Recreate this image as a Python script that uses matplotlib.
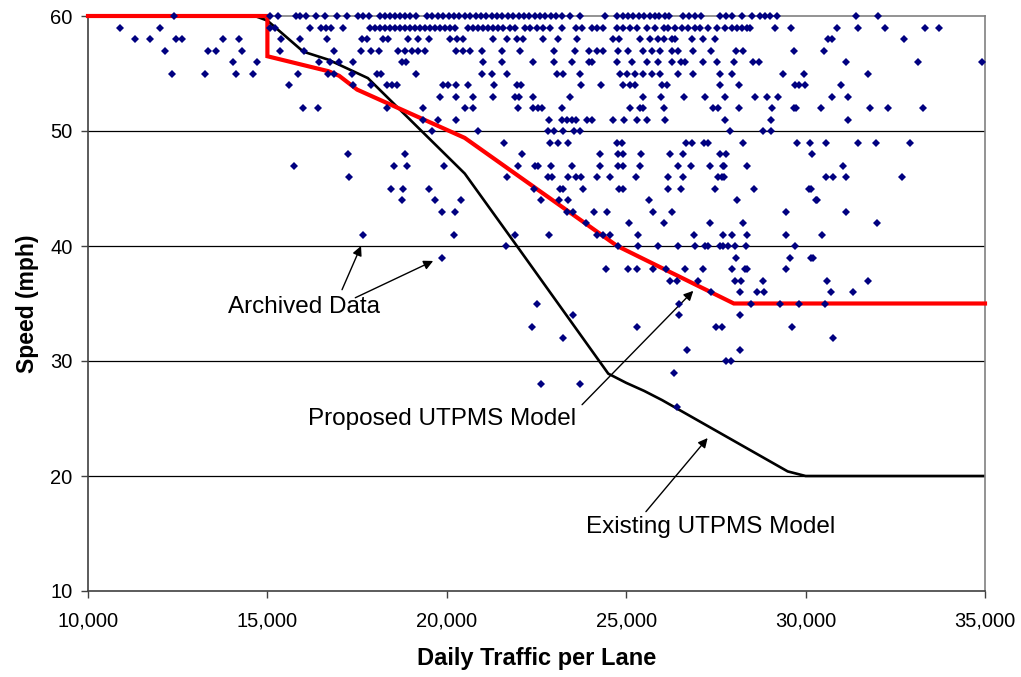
import matplotlib
matplotlib.use("Agg")
import matplotlib.pyplot as plt
import numpy as np

plt.rcParams['font.family'] = ['Liberation Sans', 'DejaVu Sans']

# Archived data: daily traffic per lane (thousands) for each observed speed (mph)
s60 = [12.4, 15.06, 15.3, 15.8, 15.9, 16.07, 16.35, 16.6, 16.95, 17.23, 17.53, 17.67, 17.84,
       18.14, 18.28, 18.42, 18.56, 18.7, 18.83, 18.97, 19.14, 19.45, 19.6, 19.75, 19.9, 20.05,
       20.2, 20.35, 20.5, 20.65, 20.8, 20.95, 21.1, 21.25, 21.4, 21.55, 21.7, 21.85, 22.0, 22.15,
       22.3, 22.45, 22.6, 22.75, 22.9, 23.05, 23.2, 23.43, 23.71, 24.41, 24.75, 24.9, 25.05, 25.2,
       25.35, 25.5, 25.65, 25.8, 25.92, 26.08, 26.2, 26.59, 26.76, 26.92, 27.08, 27.61, 27.78,
       27.94, 28.22, 28.5, 28.73, 28.87, 29.01, 29.19, 31.4, 32.03]
s59 = [10.9, 12.0, 15.06, 15.2, 16.2, 16.5, 16.64, 16.78, 17.12, 17.86, 18.0, 18.14, 18.28, 18.42,
       18.56, 18.7, 18.83, 18.97, 19.11, 19.25, 19.39, 19.53, 19.67, 19.81, 19.95, 20.09, 20.23,
       20.6, 20.74, 20.88, 21.02, 21.16, 21.3, 21.44, 21.58, 21.76, 21.9, 22.18, 22.32, 22.5,
       22.69, 22.88, 23.2, 23.6, 23.76, 24.04, 24.18, 24.36, 24.73, 24.92, 25.1, 25.29, 25.57,
       25.8, 26.04, 26.17, 26.36, 26.55, 26.73, 26.92, 27.06, 27.29, 27.52, 27.75, 27.94, 28.08,
       28.22, 28.36, 28.45, 29.15, 29.58, 30.87, 31.47, 32.21, 33.33, 33.73]
s58 = [11.3, 11.72, 12.44, 12.63, 13.76, 14.2, 15.39, 15.92, 16.67, 17.63, 17.77, 18.23, 18.37,
       18.93, 19.21, 19.49, 20.09, 20.28, 20.46, 21.28, 21.67, 21.95, 22.13, 22.67, 23.09, 23.62,
       24.62, 24.81, 25.38, 25.66, 25.89, 26.04, 26.27, 26.36, 26.82, 27.13, 27.47, 30.63, 30.73,
       32.74]
s57 = [12.14, 13.34, 13.58, 14.3, 15.36, 16.02, 16.85, 17.61, 17.9, 18.12, 18.65, 18.83, 19.02,
       19.21, 19.39, 20.27, 20.46, 20.64, 20.97, 21.55, 22.04, 22.99, 23.57, 23.97, 24.18, 24.34,
       24.78, 25.06, 25.48, 25.71, 25.94, 26.27, 26.45, 26.85, 27.36, 28.06, 28.26, 29.68, 30.5]
s56 = [14.04, 14.72, 16.43, 16.75, 16.99, 17.39, 18.74, 18.86, 21.02, 21.53, 22.39, 22.99, 23.48,
       23.95, 24.04, 24.73, 25.15, 25.57, 25.89, 26.29, 26.54, 26.64, 27.15, 27.52, 28.0, 28.54,
       28.71, 31.12, 33.12, 34.93]
s55 = [12.35, 13.25, 14.12, 14.61, 15.85, 16.69, 16.87, 17.36, 18.06, 18.17, 19.14, 20.97, 21.27,
       21.67, 23.06, 23.25, 23.71, 24.83, 25.01, 25.25, 25.48, 25.71, 25.94, 26.45, 26.87, 27.61,
       27.94, 29.38, 29.96, 31.75]
s54 = [15.59, 17.38, 17.88, 18.32, 18.46, 18.6, 19.9, 20.04, 20.25, 20.6, 21.32, 21.95, 22.06,
       23.74, 24.29, 24.92, 25.1, 25.25, 26.01, 26.15, 27.61, 28.15, 29.7, 29.82, 29.98, 30.98]
s53 = [19.81, 20.27, 20.74, 21.28, 21.9, 22.02, 22.41, 23.43, 25.48, 25.96, 26.62, 27.2, 27.74,
       28.59, 28.92, 29.24, 30.73, 31.19]
s52 = [15.99, 16.41, 18.34, 19.33, 20.51, 20.74, 21.99, 22.41, 22.55, 22.64, 23.2, 25.1, 25.38,
       25.48, 26.04, 27.43, 27.57, 28.15, 29.05, 29.68, 29.73, 30.42, 31.8, 32.31, 33.28]
s51 = [19.33, 19.76, 20.25, 22.86, 23.2, 23.36, 23.48, 23.6, 23.9, 24.04, 24.64, 24.95, 25.29,
       25.59, 26.08, 27.75, 29.04, 31.17]
s50 = [19.6, 20.88, 22.83, 23.0, 23.25, 23.55, 23.7, 27.89, 28.82, 29.04]
s49 = [21.59, 22.88, 23.11, 23.39, 24.73, 24.87, 26.68, 26.82, 27.17, 27.29, 28.26, 29.75, 30.12,
       30.56, 31.47, 31.96, 32.91]
s48 = [17.26, 18.83, 22.09, 24.27, 24.78, 24.92, 25.41, 26.22, 26.59, 27.61, 27.78, 30.17]
s47 = [15.75, 18.54, 18.88, 19.92, 21.99, 22.46, 22.55, 22.9, 23.5, 24.27, 24.78, 24.9, 25.38,
       26.45, 26.8, 27.34, 27.69, 27.73, 28.36, 31.05]
s46 = [17.27, 21.67, 22.83, 22.92, 23.39, 23.6, 23.73, 24.18, 24.55, 25.26, 26.17, 26.59, 27.57,
       27.66, 27.73, 30.56, 30.75, 31.13, 32.7]
s45 = [18.44, 18.77, 19.5, 22.43, 23.15, 23.25, 23.8, 24.81, 24.92, 26.17, 26.54, 27.47, 28.57,
       30.1, 30.15]
s44 = [18.76, 19.66, 20.39, 22.62, 23.13, 23.37, 25.64, 28.08, 30.28, 30.33]
s43 = [19.88, 20.23, 23.34, 23.53, 24.11, 24.47, 25.74, 26.27, 29.45, 31.12]
s42 = [23.88, 25.08, 26.04, 27.34, 28.26, 32.0]
s41 = [17.66, 20.19, 21.9, 22.86, 24.18, 24.36, 24.55, 25.34, 26.9, 27.69, 27.94, 28.36, 29.44,
       30.45]
s40 = [21.65, 24.78, 25.34, 25.9, 26.45, 26.92, 27.2, 27.27, 27.61, 27.69, 27.85, 28.03, 28.33,
       29.7]
s39 = [19.87, 28.06, 29.57, 30.15, 30.21]
s38 = [24.44, 25.04, 25.29, 25.76, 26.11, 26.63, 27.14, 27.94, 28.31, 28.38, 29.46]
s37 = [26.22, 26.41, 27.0, 28.03, 28.2, 28.8, 30.61, 31.74]
s36 = [27.36, 28.16, 28.65, 28.84, 30.7, 31.33]
s35 = [22.5, 26.47, 28.47, 29.29, 29.82, 30.54]
s34 = [23.53, 26.48, 28.17]
s33 = [22.38, 25.29, 27.49, 27.68, 29.62]
s32 = [23.25, 30.77]
s31 = [26.7, 28.17]
s30 = [27.77, 27.92]
s29 = [26.33]
s28 = [22.62, 23.71]
s26 = [26.42]

speed_rows = {60: s60, 59: s59, 58: s58, 57: s57, 56: s56, 55: s55, 54: s54, 53: s53, 52: s52,
              51: s51, 50: s50, 49: s49, 48: s48, 47: s47, 46: s46, 45: s45, 44: s44, 43: s43,
              42: s42, 41: s41, 40: s40, 39: s39, 38: s38, 37: s37, 36: s36, 35: s35, 34: s34,
              33: s33, 32: s32, 31: s31, 30: s30, 29: s29, 28: s28, 26: s26}

# Model curves
proposed_x = [10000, 15000, 15000, 16700, 17000, 17500, 20500, 24750, 28000, 35000]
proposed_y = [60, 60, 56.5, 55.2, 54.8, 53.6, 49.4, 40.0, 35.0, 35.0]
existing_x = [10000, 14650, 15000, 16000, 16700, 17800, 20500, 22000, 24500, 25000, 25500,
              26000, 29500, 30000, 35000]
existing_y = [60, 60, 59.6, 56.9, 56.2, 54.6, 46.3, 39.8, 28.9, 28.1, 27.4, 26.6, 20.4, 20, 20]

xticks = [10000, 15000, 20000, 25000, 30000, 35000]
xtick_labels = ["10,000", "15,000", "20,000", "25,000", "30,000", "35,000"]
yticks = [10, 20, 30, 40, 50, 60]

traffic = []
speed = []
for sp, xs in speed_rows.items():
    for xv in xs:
        traffic.append(xv * 1000)
        speed.append(sp)

fig = plt.figure(figsize=(10.21, 6.77), dpi=100)
ax = fig.add_axes([88 / 1021, 86 / 677, 897 / 1021, 575 / 677])

for g in [20, 30, 40, 50]:
    ax.axhline(g, color='black', lw=0.9, zorder=1)

ax.plot(existing_x, existing_y, color='black', lw=1.9, zorder=2, solid_joinstyle='miter')
ax.plot(proposed_x, proposed_y, color='#ff0000', lw=3.0, zorder=3, solid_joinstyle='miter',
        clip_on=False)
ax.plot(traffic, speed, linestyle='none', marker='D', ms=4.0, mew=0, color='#000080', zorder=4,
        clip_on=False)

ax.set_xlim(10000, 35000)
ax.set_ylim(10, 60)
ax.set_xticks(xticks)
ax.set_xticklabels(xtick_labels)
ax.set_yticks(yticks)
ax.tick_params(axis='both', labelsize=14.5, direction='out', length=5, width=1, color='#404040')
ax.tick_params(axis='x', pad=10)
ax.tick_params(axis='y', pad=6)

for side in ['top', 'right']:
    ax.spines[side].set_color('#808080')
    ax.spines[side].set_linewidth(1.2)
for side in ['left', 'bottom']:
    ax.spines[side].set_color('#404040')
    ax.spines[side].set_linewidth(1.2)

ax.set_xlabel('Daily Traffic per Lane', fontsize=17, fontweight='bold', labelpad=12)
ax.set_ylabel('Speed (mph)', fontsize=16.5, fontweight='bold', labelpad=8)

fs = 17.5
arrow = dict(arrowstyle='-|>', color='black', lw=1.0, mutation_scale=14, shrinkA=0, shrinkB=0)
ax.text(16020, 34.7, 'Archived Data', fontsize=fs, ha='center', va='center')
ax.annotate('', xy=(17610, 40.0), xytext=(17080, 36.2), arrowprops=arrow)
ax.annotate('', xy=(19620, 38.7), xytext=(17450, 35.5), arrowprops=arrow)

ax.text(19870, 25.0, 'Proposed UTPMS Model', fontsize=fs, ha='center', va='center')
ax.annotate('', xy=(26870, 36.1), xytext=(23770, 26.2), arrowprops=arrow)

ax.text(27340, 15.6, 'Existing UTPMS Model', fontsize=fs, ha='center', va='center')
ax.annotate('', xy=(27270, 23.3), xytext=(25550, 16.9), arrowprops=arrow)

fig.savefig('out.png', dpi=100)
